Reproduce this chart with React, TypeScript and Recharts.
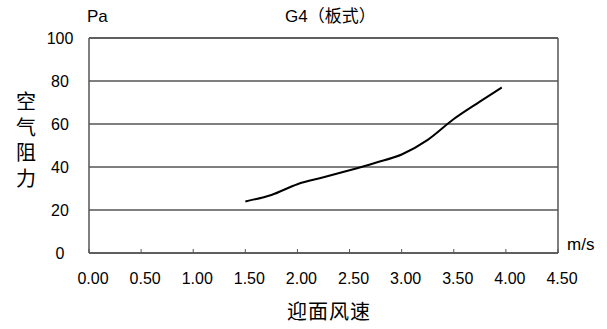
import React from "react";
import { LineChart, Line, XAxis, YAxis, CartesianGrid, ReferenceLine } from "recharts";

const speeds = [1.5, 1.75, 2.0, 2.25, 2.5, 2.75, 3.0, 3.25, 3.5, 3.75, 3.96];
const pressures = [24, 27, 32, 35.2, 38.5, 42, 45.8, 52.6, 62.3, 70.4, 77];
const xTicks = [0, 0.5, 1, 1.5, 2, 2.5, 3, 3.5, 4, 4.5];
const yTicks = [0, 20, 40, 60, 80, 100];

const title = "G4（板式）";
const yUnit = "Pa";
const xUnit = "m/s";
const yName = "空气阻力";
const xName = "迎面风速";

const data = speeds.map((s, i) => ({ speed: s, pa: pressures[i] }));

const latin = "'Liberation Sans', Arial, Helvetica, sans-serif";
const cjk = "'Liberation Sans', 'Noto Sans CJK SC', sans-serif";

function XTick({ x, y, payload }: any) {
  return (
    <g>
      <line x1={x} y1={y} x2={x} y2={y - 4} stroke="#555" strokeWidth={1} />
      <text x={x + 4} y={y + 25} textAnchor="middle" dominantBaseline="central" fontSize={16} fontFamily={latin} fill="#000">
        {payload.value.toFixed(2)}
      </text>
    </g>
  );
}

function YTick({ x, y, payload }: any) {
  return (
    <text x={x - 29} y={y} textAnchor="middle" dominantBaseline="central" fontSize={16} fontFamily={latin} fill="#000">
      {payload.value}
    </text>
  );
}

export default function App() {
  const txt: React.CSSProperties = { position: "absolute", color: "#000", whiteSpace: "nowrap", lineHeight: 1 };
  return (
    <div style={{ position: "absolute", left: 0, top: 0, width: 607, height: 329, background: "#fff" }}>
      <LineChart width={607} height={329} data={data} margin={{ top: 38, right: 49, bottom: 0, left: 0 }}>
        <CartesianGrid vertical={false} stroke="#000" strokeWidth={1} />
        <XAxis
          type="number"
          dataKey="speed"
          domain={[0, 4.5]}
          ticks={xTicks}
          height={76}
          tickSize={0}
          tickMargin={0}
          tickLine={false}
          axisLine={{ stroke: "#555", strokeWidth: 1.5 }}
          tick={<XTick />}
          interval={0}
        />
        <YAxis
          type="number"
          domain={[0, 100]}
          ticks={yTicks}
          width={89}
          tickSize={0}
          tickMargin={0}
          tickLine={false}
          axisLine={{ stroke: "#555", strokeWidth: 1.5 }}
          tick={<YTick />}
          interval={0}
        />
        <ReferenceLine y={100} stroke="#555" strokeWidth={1.5} />
        <ReferenceLine x={4.5} stroke="#555" strokeWidth={1.5} />
        <Line type="monotone" dataKey="pa" stroke="#000" strokeWidth={2} dot={false} isAnimationActive={false} />
      </LineChart>
      <div style={{ ...txt, left: 87, top: 8, fontSize: 17, fontFamily: latin }}>{yUnit}</div>
      <div style={{ ...txt, left: 285, top: 8, fontSize: 17, fontFamily: cjk }}>{title}</div>
      <div style={{ ...txt, left: 567, top: 236, fontSize: 17, fontFamily: latin }}>{xUnit}</div>
      <div style={{ ...txt, left: 287, top: 302, fontSize: 20, letterSpacing: 1, fontFamily: cjk }}>{xName}</div>
      <div style={{ ...txt, left: 15, top: 90, width: 22, fontSize: 20, lineHeight: "25.6px", fontFamily: cjk, whiteSpace: "normal", textAlign: "center" }}>
        {yName.split("").map((c, i) => (
          <div key={i}>{c}</div>
        ))}
      </div>
    </div>
  );
}
